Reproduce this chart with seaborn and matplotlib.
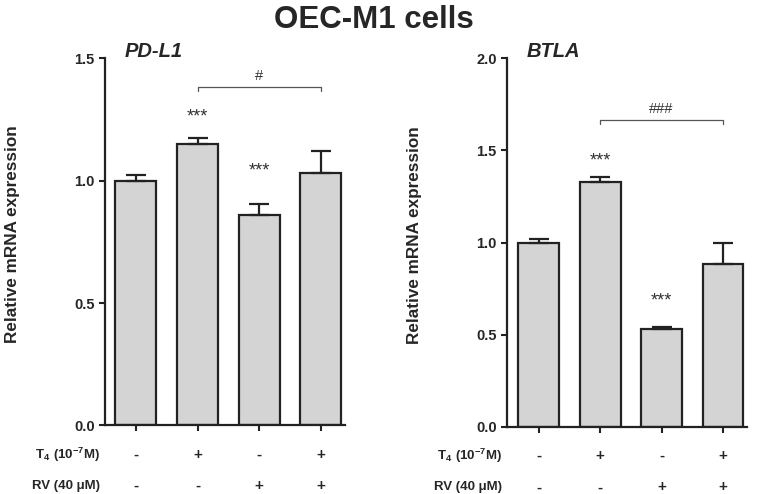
import numpy as np
import pandas as pd
import matplotlib
matplotlib.use("Agg")
import matplotlib.pyplot as plt
import seaborn as sns

# data
groups = ["Control", "T4", "RV", "T4+RV"]
t4_signs = ["-", "+", "-", "+"]
rv_signs = ["-", "-", "+", "+"]

pdl1_mean = [1.00, 1.15, 0.86, 1.03]
pdl1_err = [0.022, 0.026, 0.043, 0.091]
pdl1_stars = ["", "***", "***", ""]

btla_mean = [1.00, 1.328, 0.533, 0.884]
btla_err = [0.02, 0.028, 0.01, 0.113]
btla_stars = ["", "***", "***", ""]

sns.set_style("ticks")
plt.rcParams["font.family"] = ["Liberation Sans", "DejaVu Sans"]
plt.rcParams["mathtext.fontset"] = "custom"
plt.rcParams["mathtext.bf"] = "Liberation Sans:bold"
plt.rcParams["mathtext.rm"] = "Liberation Sans:bold"

fig = plt.figure(figsize=(7.57, 4.94), dpi=100)
ax1 = fig.add_axes([0.1387, 0.1387, 0.317, 0.7433])
ax2 = fig.add_axes([0.6698, 0.1362, 0.317, 0.7457])


def draw_panel(ax, means, errs, stars, star_y, ymax, yticks, name,
               bracket_y, bracket_text, xleft):
    df = pd.DataFrame({"group": groups, "value": means})
    sns.barplot(data=df, x="group", y="value", order=groups, ax=ax,
                color="#d4d4d4", edgecolor="#222222", linewidth=1.6,
                width=0.665, saturation=1, errorbar=None)
    x = np.arange(len(groups))
    ax.errorbar(x, means, yerr=[np.zeros(len(errs)), errs], fmt="none",
                ecolor="#222222", elinewidth=1.6, capsize=7.5, capthick=1.6)
    for xi, s, sy in zip(x, stars, star_y):
        if s:
            ax.text(xi, sy - ymax * 0.012, s, ha="center", va="center",
                    fontsize=13, color="#333333")
    # comparison bracket between T4 and T4+RV
    tick = ymax * 0.012
    ax.plot([1, 1, 3, 3], [bracket_y - tick, bracket_y, bracket_y, bracket_y - tick],
            color="#555555", lw=0.9)
    ax.text(2, bracket_y + ymax * 0.03, bracket_text, ha="center", va="center",
            fontsize=10.5, color="#333333")

    ax.set_ylim(0, ymax)
    ax.set_xlim(xleft, 3.39)
    ax.set_yticks(yticks)
    ax.set_yticklabels([f"{t:.1f}" for t in yticks], fontsize=10.5,
                       fontweight="bold")
    ax.set_xticks(x)
    ax.set_xticklabels([])
    ax.set_xlabel("")
    ax.set_ylabel("Relative mRNA expression", fontsize=12.3, fontweight="bold")
    ax.yaxis.set_label_coords(-0.355, 0.52)
    ax.tick_params(axis="both", length=4, width=1.5, color="#222222")
    for sp in ["top", "right"]:
        ax.spines[sp].set_visible(False)
    for sp in ["left", "bottom"]:
        ax.spines[sp].set_linewidth(1.6)
        ax.spines[sp].set_color("#222222")
    ax.set_title(name, fontsize=14.5, fontweight="bold", style="italic",
                 loc="left", x=0.08, y=0.98,
                 family=["Liberation Sans Narrow", "Liberation Sans"])

    # treatment rows under the axis
    trans = ax.get_xaxis_transform()
    for xi, a, b in zip(x, t4_signs, rv_signs):
        ax.text(xi, -0.08, a, transform=trans, ha="center", va="center",
                fontsize=11, fontweight="bold")
        ax.text(xi, -0.165, b, transform=trans, ha="center", va="center",
                fontsize=11, fontweight="bold")
    ax.text(-0.02, -0.08, r"$\mathbf{T_4\ (10^{-7}M)}$", transform=ax.transAxes,
            ha="right", va="center", fontsize=9.5)
    ax.text(-0.02, -0.165, "RV (40 \u03bcM)", transform=ax.transAxes,
            ha="right", va="center", fontsize=9.5, fontweight="bold")


draw_panel(ax1, pdl1_mean, pdl1_err, pdl1_stars, [0, 1.28, 1.057, 0], 1.5,
           [0.0, 0.5, 1.0, 1.5], "PD-L1", 1.383, "#", -0.5)
draw_panel(ax2, btla_mean, btla_err, btla_stars, [0, 1.467, 0.707, 0], 2.0,
           [0.0, 0.5, 1.0, 1.5, 2.0], "BTLA", 1.667, "###", -0.516)

fig.suptitle("OEC-M1 cells", fontsize=22.5, fontweight="bold", x=0.494, y=0.99,
             family=["Liberation Sans Narrow", "Liberation Sans"])

fig.savefig("out.png", dpi=100)
